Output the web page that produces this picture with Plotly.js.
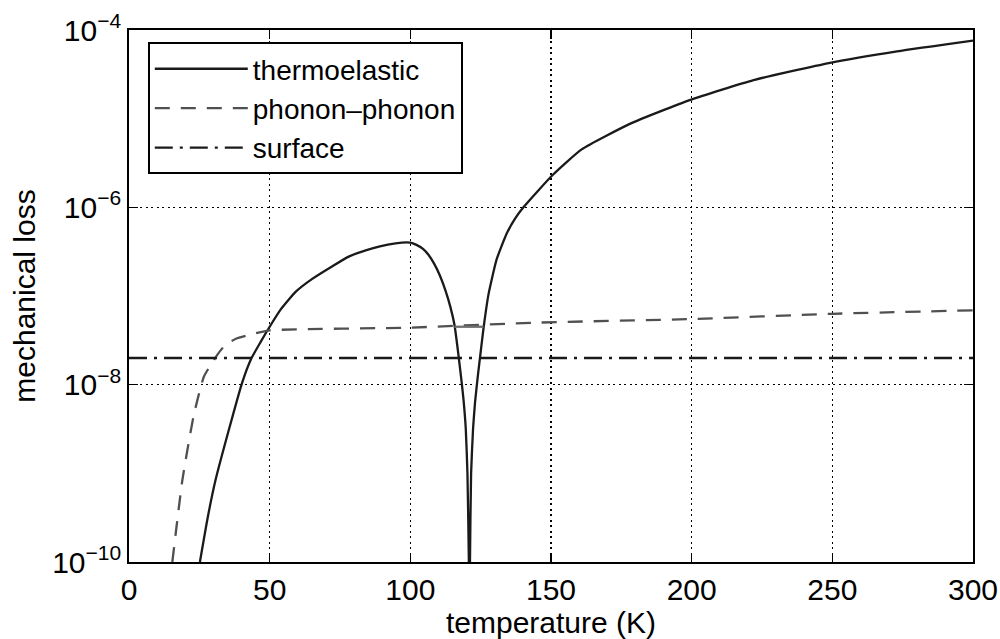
<!DOCTYPE html>
<html>
<head>
<meta charset="utf-8">
<script src="https://cdn.plot.ly/plotly-3.0.1.min.js"></script>
<style>
  html, body { margin: 0; padding: 0; background: #fff; }
  #chart { width: 1000px; height: 639px; }
</style>
</head>
<body>
<div id="chart"></div>
<script>
// Temperature (K) and mechanical loss for each loss mechanism
const thermoT = [25.2, 28, 30.8, 35.5, 40.2, 43.4, 46.7, 50, 54, 59.3, 65, 72, 78.3, 86.5, 92, 97, 100, 102,
  104.5, 106.5, 108.5, 110.5, 112.5, 114.3, 115.7, 117.0, 118.1, 118.9, 119.7, 120.3, 120.8, 121.0, 121.2,
  121.6, 122.3, 123.0, 124.0, 124.9, 126.0, 127.8, 130.7, 134.3, 137.4, 140.2, 145.5, 150.5, 160.9, 178.6,
  199.3, 222, 249.2, 273, 300];
const thermoLoss = [1.0e-10, 3.2e-10, 8.5e-10, 3.1e-9, 1.05e-8, 1.95e-8, 3.0e-8, 4.5e-8, 7.1e-8, 1.12e-7, 1.55e-7,
  2.14e-7, 2.8e-7, 3.45e-7, 3.8e-7, 4.0e-7, 4.0e-7, 3.8e-7, 3.4e-7, 2.9e-7, 2.3e-7, 1.7e-7, 1.15e-7, 7.4e-8,
  4.7e-8, 2.3e-8, 1.17e-8, 6.8e-9, 3.2e-9, 1.0e-9, 1.0e-10, 1.0e-12, 1.0e-10, 1.0e-9, 3.2e-9, 6.3e-9, 1.26e-8,
  2.2e-8, 4.3e-8, 1.05e-7, 2.6e-7, 5.1e-7, 7.6e-7, 1.0e-6, 1.55e-6, 2.3e-6, 4.5e-6, 8.9e-6, 1.62e-5, 2.72e-5,
  4.27e-5, 5.75e-5, 7.6e-5];

const phononT = [15.4, 19, 23, 26.6, 29, 31.5, 34, 38, 45, 50, 100, 144, 200, 250, 300];
const phononLoss = [1.0e-10, 8.5e-10, 4.5e-9, 1.23e-8, 1.66e-8, 2.2e-8, 2.75e-8, 3.3e-8, 3.8e-8, 4.1e-8,
  4.4e-8, 5.0e-8, 5.5e-8, 6.3e-8, 6.9e-8];
// solid stretch of the phonon-phonon curve between the two thermoelastic branches
const phononBridgeT = [115.7, 126.0];
const phononBridgeLoss = [4.5e-8, 4.5e-8];

const surfaceT = [0, 300];
const surfaceLoss = [2.0e-8, 2.0e-8];

const xTicks = [0, 50, 100, 150, 200, 250, 300];
const yTicks = [1e-10, 1e-8, 1e-6, 1e-4];
const yTickText = ['10<sup>\u221210</sup>', '10<sup>\u22128</sup>', '10<sup>\u22126</sup>', '10<sup>\u22124</sup>'];

const traces = [
  {
    x: thermoT, y: thermoLoss, name: 'thermoelastic', type: 'scatter', mode: 'lines',
    line: { color: '#1a1a1a', width: 2.3, shape: 'spline', smoothing: 0.5 }
  },
  {
    x: phononT, y: phononLoss, name: 'phonon\u2013phonon', type: 'scatter', mode: 'lines',
    line: { color: '#505050', width: 2.3, dash: '15px,11px', shape: 'spline', smoothing: 0.5 }
  },
  {
    x: phononBridgeT, y: phononBridgeLoss, showlegend: false, type: 'scatter', mode: 'lines',
    hoverinfo: 'skip', line: { color: '#707070', width: 2.3 }
  },
  {
    x: surfaceT, y: surfaceLoss, name: 'surface', type: 'scatter', mode: 'lines',
    line: { color: '#1a1a1a', width: 2.3, dash: '18px,7px,3px,7px' }
  }
];

const font = { family: 'Liberation Sans, Arial, Helvetica, sans-serif', size: 30, color: '#000' };
const legendFont = { family: 'Liberation Sans, Arial, Helvetica, sans-serif', size: 28, color: '#000' };

const layout = {
  width: 1000, height: 639,
  margin: { l: 129, r: 27, t: 30, b: 77 },
  paper_bgcolor: '#fff', plot_bgcolor: '#fff',
  font: font,
  showlegend: true,
  xaxis: {
    range: [0, 300], tickvals: xTicks, ticks: 'inside', ticklen: 9, tickwidth: 1.5, tickcolor: '#000',
    showline: true, linecolor: '#000', linewidth: 1.8, mirror: 'ticks',
    showgrid: true, gridcolor: '#000', gridwidth: 1.5, griddash: '2px,3.5px', zeroline: false,
    title: { text: 'temperature (K)', font: font, standoff: 0 }
  },
  yaxis: {
    type: 'log', range: [-10, -4], tickvals: yTicks, ticktext: yTickText,
    ticks: 'inside', ticklen: 9, tickwidth: 1.5, tickcolor: '#000',
    showline: true, linecolor: '#000', linewidth: 1.8, mirror: 'ticks',
    showgrid: true, gridcolor: '#000', gridwidth: 1.5, griddash: '2px,3.5px', zeroline: false,
    title: { text: 'mechanical loss', font: font, standoff: 8 }
  },
  legend: {
    x: 0.0225, y: 0.977, xanchor: 'left', yanchor: 'top',
    bgcolor: '#fff', bordercolor: '#000', borderwidth: 1.8,
    font: legendFont, itemwidth: 93, tracegroupgap: 0
  }
};

Plotly.newPlot('chart', traces, layout, { staticPlot: true, displayModeBar: false });
</script>
</body>
</html>
